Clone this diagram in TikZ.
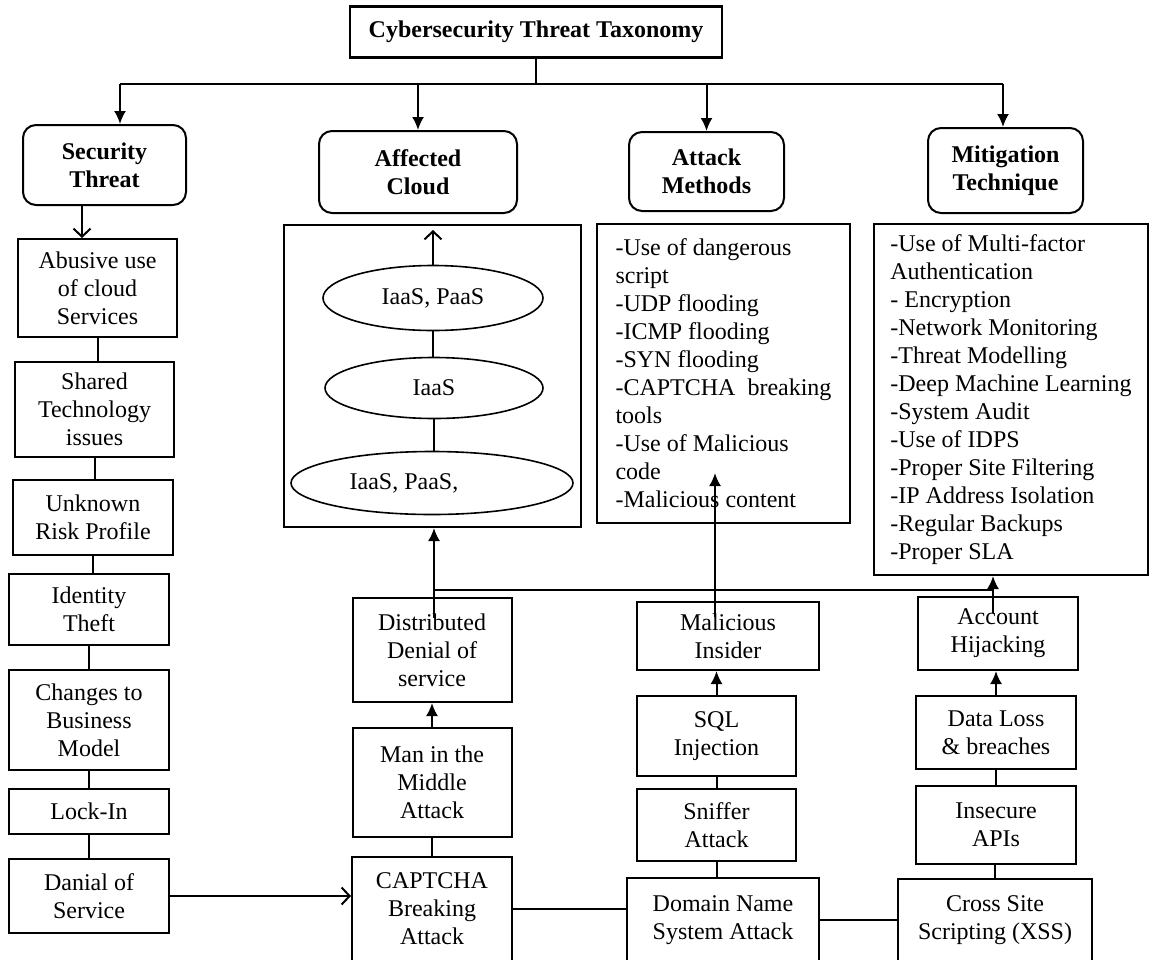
\documentclass[tikz,border=0pt]{standalone}
\usepackage{fontspec}
\setmainfont{Liberation Serif}
\usetikzlibrary{shapes.geometric,arrows.meta}
\tikzset{
  txt/.style      = {font=\fontsize{24}{28}\selectfont},
  topbox/.style   = {shape=rectangle, draw, line width=2.6pt, inner sep=0pt,
                     font=\fontsize{24}{28}\selectfont\bfseries},
  head/.style     = {shape=rectangle, rounded corners=13pt, draw, line width=2pt,
                     align=center, inner sep=0pt,
                     font=\fontsize{24}{28}\selectfont\bfseries},
  leaf/.style     = {shape=rectangle, draw, line width=2pt, align=center,
                     inner sep=0pt, txt},
  listbox/.style  = {shape=rectangle, draw, line width=2pt, align=left,
                     inner sep=0pt, txt},
  layer/.style    = {shape=ellipse, draw, line width=1.6pt, inner sep=0pt, txt},
  sz/.style 2 args = {minimum width=#1, minimum height=#2},
  tipfill/.style  = {-{Latex[length=13pt,width=12pt]}},
  tipopen/.style  = {-{Straight Barb[length=8pt,width=17pt]}}
}
\begin{document}
\begin{tikzpicture}[x=1pt, y=-1pt, line width=2pt]
    \useasboundingbox (0,0) rectangle (1150,959);

    % root and the four branches
    \node [topbox, sz={372pt}{51pt}] (root) at (536,32) {Cybersecurity Threat Taxonomy};
    \node [head, sz={163pt}{80pt}] (sec)   at (104.5,165) {Security\\Threat};
    \node [head, sz={198pt}{82pt}] (cldh)  at (418,172)   {Affected\\Cloud};
    \node [head, sz={155pt}{79pt}] (atkh)  at (706.5,171.5) {Attack\\Methods};
    \node [head, sz={155pt}{85pt}] (mith)  at (1005.5,170.5) {Mitigation\\Technique};

    \coordinate (busL) at (120,84);
    \coordinate (busR) at (1003,84);
    \draw (root.south) -- (root.south |- busL);
    \draw (busL) -- (busR);
    \draw [tipfill] (busL) -- (busL |- sec.north);
    \draw [tipfill] (cldh.north |- busL) -- (cldh.north);
    \draw [tipfill] (atkh.north |- busL) -- (atkh.north);
    \draw [tipfill] (busR) -- (busR |- mith.north);

    % security threats
    \node [leaf, sz={159pt}{98pt}] (abuse)  at (97.5,288)  {Abusive use\\of cloud\\Services};
    \node [leaf, sz={159pt}{95pt}] (shared) at (94.5,409.5) {Shared\\Technology\\issues};
    \node [leaf, sz={160pt}{75pt}] (risk)   at (93,517.5)  {Unknown\\Risk Profile};
    \node [leaf, sz={160pt}{71pt}] (ident)  at (89,609.5)  {Identity\\Theft};
    \node [leaf, sz={160pt}{100pt}] (model) at (89,720)    {Changes to\\Business\\Model};
    \node [leaf, sz={160pt}{45pt}] (lockin) at (89,811.5)  {Lock-In};
    \node [leaf, sz={160pt}{74pt}] (dos)    at (89,896)    {Danial of\\Service};

    \coordinate (secout) at (82,205);
    \draw [tipopen] (secout) -- (secout |- abuse.north);
    \draw (abuse.south) -- (abuse.south |- shared.north);
    \draw (shared.south) -- (shared.south |- risk.north);
    \draw (risk.south) -- (risk.south |- ident.north);
    \draw (ident.south) -- (ident.south |- model.north);
    \draw (model.south) -- (model.south |- lockin.north);
    \draw (lockin.south) -- (lockin.south |- dos.north);

    % affected cloud
    \node [listbox, sz={297pt}{302pt}] (cldbox) at (432.5,376) {};
    \node [layer, sz={220pt}{65pt}] (iaaspaas) at (433,298) {IaaS, PaaS};
    \node [layer, sz={218pt}{61pt}] (iaas)     at (434,388) {IaaS};
    \node [layer, sz={282pt}{63pt}] (allcld)   at (432,483) {IaaS, PaaS,\hspace*{56pt}};
    \coordinate (cldtop) at (433,230);
    \draw [tipopen] (iaaspaas.north) -- (iaaspaas.north |- cldtop);
    \draw (iaaspaas.south) -- (iaaspaas.south |- iaas.north);
    \draw (iaas.south) -- (iaas.south |- allcld.north);

    % attack methods and mitigation
    \node [listbox, sz={253pt}{299pt}] (atkbox) at (723.5,373.5)
        {-Use of dangerous\\script\\-UDP flooding\\-ICMP flooding\\-SYN flooding\\
         -CAPTCHA\ \ breaking\\tools\\-Use of Malicious\\code\\-Malicious content};
    \node [listbox, sz={274pt}{351pt}] (mitbox) at (1011,399.5)
        {-Use of Multi-factor\\Authentication\\- Encryption\\-Network Monitoring\\
         -Threat Modelling\\-Deep Machine Learning\\-System Audit\\-Use of IDPS\\
         -Proper Site Filtering\\-IP Address Isolation\\-Regular Backups\\-Proper SLA};

    % attacks
    \node [leaf, sz={159pt}{104pt}] (ddos)    at (432,650)    {Distributed\\Denial of\\service};
    \node [leaf, sz={159pt}{109pt}] (mitm)    at (432,782.5)  {Man in the\\Middle\\Attack};
    \node [leaf, sz={160pt}{104pt}] (captcha) at (432,909)    {CAPTCHA\\Breaking\\Attack};
    \node [leaf, sz={182pt}{68pt}]  (insider) at (728,636)    {Malicious\\Insider};
    \node [leaf, sz={159pt}{80pt}]  (sql)     at (716.5,736)  {SQL\\Injection};
    \node [leaf, sz={159pt}{72pt}]  (sniff)   at (716.5,825)  {Sniffer\\Attack};
    \node [leaf, sz={192pt}{84pt}]  (dns)     at (723,920)    {Domain Name\\System Attack};
    \node [leaf, sz={160pt}{73pt}]  (hijack)  at (998,633.5)  {Account\\Hijacking};
    \node [leaf, sz={160pt}{73pt}]  (dloss)   at (996,732.5)  {Data Loss\\\& breaches};
    \node [leaf, sz={160pt}{78pt}]  (api)     at (996,825)    {Insecure\\APIs};
    \node [leaf, sz={194pt}{83pt}]  (xss)     at (995,920.5)  {Cross Site\\Scripting (XSS)};

    \draw [tipopen] (dos.east) -- (dos.east -| captcha.west);
    \draw (captcha.north) -- (captcha.north |- mitm.south);
    \draw [tipfill] (mitm.north) -- (mitm.north |- ddos.south);
    \draw (captcha.east) -- (captcha.east -| dns.west);
    \draw (sniff.south) -- (sniff.south |- dns.north);
    \draw (sql.south) -- (sql.south |- sniff.north);
    \draw [tipfill] (sql.north) -- (sql.north |- insider.south);
    \draw (dns.east) -- (dns.east -| xss.west);
    \draw (xss.north) -- (xss.north |- api.south);
    \draw (api.north) -- (api.north |- dloss.south);
    \draw [tipfill] (dloss.north) -- (dloss.north |- hijack.south);

    % links back up to the three boxes
    \coordinate (ddosin) at (434,618);
    \coordinate (insin)  at (715,617);
    \coordinate (hijin)  at (993,613);
    \coordinate (atktip) at (715,473);
    \coordinate (jL) at (434,590);
    \coordinate (jR) at (993,590);
    \draw (jL) -- (jR);
    \draw [tipfill] (ddosin) -- (ddosin |- cldbox.south);
    \draw [tipfill] (insin) -- (atktip);
    \draw [tipfill] (hijin) -- (hijin |- mitbox.south);

\end{tikzpicture}
\end{document}
